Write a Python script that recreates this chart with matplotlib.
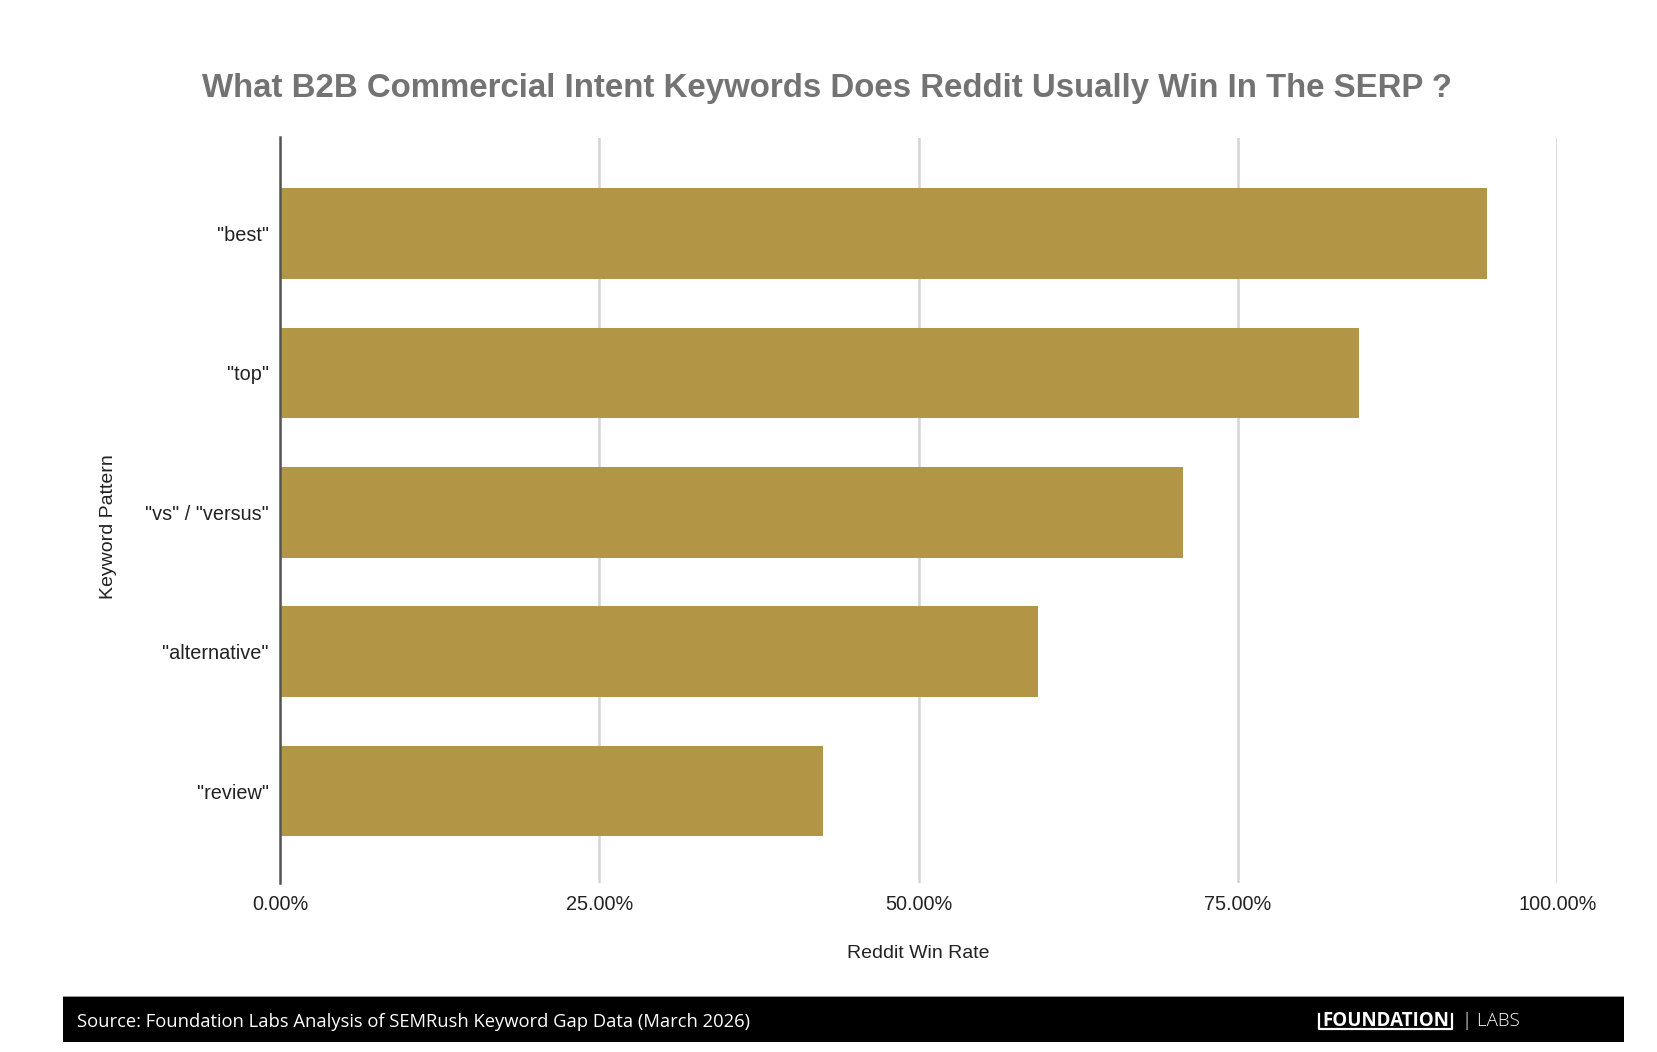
import matplotlib
matplotlib.use("Agg")
import matplotlib.pyplot as plt
from matplotlib.patches import Rectangle
from matplotlib.lines import Line2D
from matplotlib.ticker import FuncFormatter

categories = ['"best"', '"top"', '"vs" / "versus"', '"alternative"', '"review"']
win_rate = [0.945, 0.845, 0.707, 0.593, 0.425]
x_ticks = [0.0, 0.25, 0.5, 0.75, 1.0]

title = "What B2B Commercial Intent Keywords Does Reddit Usually Win In The SERP ?"
x_label = "Reddit Win Rate"
y_label = "Keyword Pattern"
source = "Source: Foundation Labs Analysis of SEMRush Keyword Gap Data (March 2026)"

BAR = "#B29545"
W, H = 1658, 1052
fig = plt.figure(figsize=(W / 100, H / 100), dpi=100)
fig.patch.set_facecolor("white")

ax = fig.add_axes([280 / W, 1 - 883 / H, (1557.5 - 280) / W, (883 - 137.5) / H])
y = list(range(len(categories)))
ax.barh(y, win_rate, height=0.65, color=BAR, zorder=3)
ax.set_ylim(4.66, -0.69)
ax.set_xlim(0, 1.0)
ax.set_xticks(x_ticks)
ax.xaxis.set_major_formatter(FuncFormatter(lambda v, p: f"{v*100:.2f}%"))
ax.set_yticks(y)
ax.set_yticklabels(categories)
ax.grid(axis="x", color="#d4d4d4", linewidth=1.8, zorder=0)
ax.set_axisbelow(True)
for s in ["top", "right", "bottom"]:
    ax.spines[s].set_visible(False)
ax.spines["left"].set_color("#555555")
ax.spines["left"].set_linewidth(1.8)
ax.spines["left"].set_zorder(4)
ax.tick_params(axis="both", length=0, labelsize=14.3, labelcolor="#222222")
ax.tick_params(axis="x", pad=9)
ax.tick_params(axis="y", pad=8)
for lab in ax.get_xticklabels() + ax.get_yticklabels():
    lab.set_fontfamily("Liberation Sans")

fig.text(827 / W, 1 - 89 / H, title, ha="center", va="center", fontsize=23.8,
         fontweight="bold", color="#737373", family="Liberation Sans")
fig.text(918 / W, 1 - 954 / H, x_label, ha="center", va="center", fontsize=14,
         color="#222222", family="Liberation Sans")
fig.text(109 / W, 1 - 527 / H, y_label, ha="center", va="center", fontsize=14,
         rotation=90, color="#222222", family="Liberation Sans")

# footer band
fig.add_artist(Rectangle((63 / W, 1 - 1041.5 / H), (1624 - 63) / W, (1041.5 - 996) / H,
                         transform=fig.transFigure, facecolor="black", edgecolor="none"))
fig.add_artist(Rectangle((63 / W, 1 - 997 / H), (1624 - 63) / W, 1.5 / H,
                         transform=fig.transFigure, facecolor="#9a9a9a", edgecolor="none"))
fig.text(77 / W, 1 - 1022 / H, source, ha="left", va="center", fontsize=13.2,
         color="white", family="Open Sans")
ft = fig.text(1322 / W, 1 - 1021 / H, "FOUNDATION", ha="left", va="center", fontsize=13.5,
              fontweight="bold", color="white", family="Open Sans")
fig.text(1462 / W, 1 - 1021 / H, "| LABS", ha="left", va="center", fontsize=13.5,
         fontweight="light", color="white", family="Open Sans")

fig.canvas.draw()
bb = ft.get_window_extent()
x0, x1 = bb.x0 - 3, bb.x1 + 3
yb, yt = bb.y0 + 2, bb.y1 - 3
fig.add_artist(Line2D([x0 / W, x0 / W, x1 / W, x1 / W], [yt / H, yb / H, yb / H, yt / H],
                      transform=fig.transFigure, color="white", linewidth=1.6))

fig.savefig("out.png", dpi=100)
